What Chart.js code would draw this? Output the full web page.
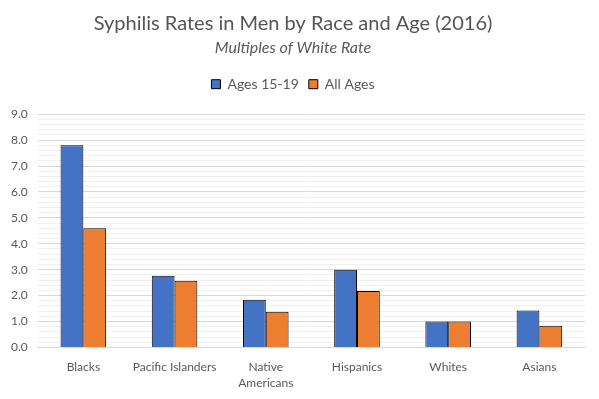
<!DOCTYPE html>
<html>
<head>
<meta charset="utf-8">
<script src="https://cdn.jsdelivr.net/npm/chart.js@4"></script>
<style>
    html, body { margin: 0; padding: 0; background: #fff; }
    #wrap { width: 599px; height: 399px; }
</style>
</head>
<body>
<div id="wrap"><canvas id="myChart" width="599" height="399"></canvas></div>
<script>
var categories = ["Blacks", "Pacific Islanders", ["Native", "Americans"], "Hispanics", "Whites", "Asians"];
var ages1519 = [7.8, 2.77, 1.84, 3.0, 1.0, 1.42];
var allAges = [4.6, 2.57, 1.38, 2.18, 1.0, 0.84];
var seriesNames = ["Ages 15-19", "All Ages"];

var textColor = "#595959";
var font = "Lato, 'Open Sans', sans-serif";

function isMajor(v) {
    return Math.abs(v - Math.round(v)) < 1e-6;
}

// push the plot area down a bit below the legend
var legendMargin = {
    id: "legendMargin",
    beforeInit: function(chart) {
        var orig = chart.legend.fit;
        chart.legend.fit = function() {
            orig.bind(chart.legend)();
            this.height += 13;
        };
    }
};

window.onload = function() {
    var ctx = document.getElementById("myChart");
    var myChart = new Chart(ctx, {
        type: "bar",
        data: {
            labels: categories,
            datasets: [{
                label: seriesNames[0],
                data: ages1519,
                backgroundColor: "#4472c4",
                borderColor: "#000000",
                borderWidth: 1
            }, {
                label: seriesNames[1],
                data: allAges,
                backgroundColor: "#ed7d31",
                borderColor: "#000000",
                borderWidth: 1
            }]
        },
        plugins: [legendMargin],
        options: {
            responsive: false,
            animation: false,
            layout: { padding: { left: 1, right: 14, top: 8, bottom: 4 } },
            datasets: {
                bar: { categoryPercentage: 0.5, barPercentage: 1.0 }
            },
            plugins: {
                title: {
                    display: true,
                    text: "Syphilis Rates in Men by Race and Age (2016)",
                    color: "#555555",
                    font: { family: font, size: 20, weight: "normal" },
                    padding: { top: 4, bottom: 2 }
                },
                subtitle: {
                    display: true,
                    text: "Multiples of White Rate",
                    color: textColor,
                    font: { family: font, size: 16, style: "italic" },
                    padding: { bottom: 10 }
                },
                legend: {
                    position: "top",
                    labels: {
                        color: textColor,
                        font: { family: font, size: 14 },
                        boxWidth: 9,
                        boxHeight: 9,
                        padding: 10
                    }
                },
                tooltip: { enabled: false }
            },
            scales: {
                x: {
                    grid: { display: false },
                    border: { color: "#d9d9d9" },
                    ticks: {
                        color: textColor,
                        font: { family: font, size: 12, lineHeight: 1.4 },
                        maxRotation: 0,
                        padding: 3
                    }
                },
                y: {
                    min: 0,
                    max: 9,
                    border: { display: false },
                    grid: {
                        drawTicks: false,
                        color: function(c) {
                            return isMajor(c.tick.value) ? "#d9d9d9" : "#f0f0f0";
                        }
                    },
                    ticks: {
                        stepSize: 0.2,
                        autoSkip: false,
                        color: textColor,
                        font: { family: font, size: 12 },
                        padding: 10,
                        callback: function(v) {
                            return isMajor(v) ? v.toFixed(1) : "";
                        }
                    }
                }
            }
        }
    });
};
</script>
</body>
</html>
